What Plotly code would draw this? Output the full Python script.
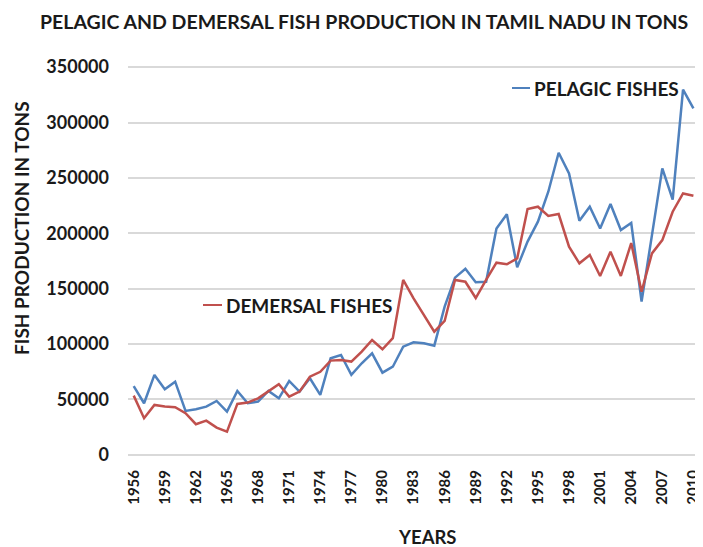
import plotly.graph_objects as go

years = list(range(1956, 2011))

pelagic = [62000, 46600, 72200, 59200, 66100, 39700, 41200, 43600, 48700, 39000,
           57700, 46600, 48100, 57700, 51100, 66700, 57100, 69200, 54100, 87200,
           90200, 72200, 82700, 91700, 74200, 79600, 97700, 101600, 100700, 98600,
           133800, 160000, 168000, 155800, 156300, 204400, 217100, 169300, 192500, 210500,
           237500, 272700, 254100, 211400, 224000, 204400, 226400, 203000, 209300, 138300,
           198400, 258600, 230500, 329700, 312700]

demersal = [53500, 33100, 45100, 43600, 43000, 37600, 27700, 30900, 24600, 21000,
            46000, 47200, 51100, 57100, 63800, 52600, 57100, 70600, 75000, 85100,
            85700, 84200, 93200, 103700, 95300, 105300, 157900, 141300, 126300, 111200,
            120900, 157900, 156300, 141600, 157900, 173500, 172000, 177400, 221900, 224000,
            215600, 217400, 187900, 172900, 180400, 161500, 183400, 161500, 191200, 147300,
            181900, 193900, 219500, 236000, 233900]

x_ticks = list(range(1956, 2011, 3))
y_ticks = [0, 50000, 100000, 150000, 200000, 250000, 300000, 350000]

title_text = "PELAGIC AND DEMERSAL FISH PRODUCTION IN TAMIL NADU IN TONS"
pelagic_name = "PELAGIC FISHES"
demersal_name = "DEMERSAL FISHES"

BLUE = "#4f81bd"
RED = "#c0504d"
FONT = "Lato"
TXT = "#1a1a1a"

# page body has an 8px margin: figure is placed at (8, 8)
OFF = 8
FW, FH = 703 - OFF, 547 - OFF
# plot area in page pixels
L, R, T, B = 128, 696, 66, 456
W, H = R - L, B - T


def px(x):
    return (x - L) / W


def py(y):
    return (B - y) / H


fig = go.Figure()
fig.add_trace(go.Scatter(x=years, y=pelagic, mode="lines", name=pelagic_name,
                         line=dict(color=BLUE, width=2.5)))
fig.add_trace(go.Scatter(x=years, y=demersal, mode="lines", name=demersal_name,
                         line=dict(color=RED, width=2.5)))

fig.update_layout(
    width=FW, height=FH,
    margin=dict(l=L - OFF, r=703 - R, t=T - OFF, b=547 - B),
    paper_bgcolor="white", plot_bgcolor="white",
    showlegend=False,
    font=dict(family=FONT, color=TXT),
    xaxis=dict(range=[1955.45, 2010.25], tickvals=x_ticks, ticktext=[str(v) for v in x_ticks],
               tickangle=-90, showgrid=False, zeroline=False, showline=False, ticks="",
               ticklabelstandoff=10, automargin=False,
               tickfont=dict(family=FONT, size=15, color=TXT, weight="bold")),
    yaxis=dict(range=[-1000, 351000], tickvals=y_ticks, ticktext=[str(v) for v in y_ticks],
               showgrid=True, gridcolor="#d9d9d9", gridwidth=2, zeroline=False,
               showline=False, ticks="", ticklabelstandoff=18, automargin=False,
               tickfont=dict(family=FONT, size=18, color=TXT, weight="bold")),
)

# Title
fig.add_annotation(text=title_text, xref="paper", yref="paper",
                   x=px(363.5), y=py(22), xanchor="center", yanchor="middle",
                   showarrow=False, font=dict(family=FONT, size=19.5, color=TXT, weight="bold"))
# Axis titles
fig.add_annotation(text="FISH PRODUCTION IN TONS", xref="paper", yref="paper",
                   x=px(21), y=py(228), xanchor="center", yanchor="middle",
                   textangle=-90, showarrow=False,
                   font=dict(family=FONT, size=19, color=TXT, weight="bold"))
fig.add_annotation(text="YEARS", xref="paper", yref="paper",
                   x=px(427), y=py(537), xanchor="center", yanchor="middle",
                   showarrow=False, font=dict(family=FONT, size=18.5, color=TXT, weight="bold"))

# Series labels with keys
fig.add_shape(type="line", xref="paper", yref="paper",
              x0=px(203), x1=px(222), y0=py(305), y1=py(305), line=dict(color=RED, width=2))
fig.add_annotation(text=demersal_name, xref="paper", yref="paper",
                   x=px(224), y=py(305), xanchor="left", yanchor="middle",
                   showarrow=False, font=dict(family=FONT, size=19, color=TXT, weight="bold"))
fig.add_shape(type="line", xref="paper", yref="paper",
              x0=px(512), x1=px(530), y0=py(88), y1=py(88), line=dict(color=BLUE, width=2))
fig.add_annotation(text=pelagic_name, xref="paper", yref="paper",
                   x=px(532), y=py(88), xanchor="left", yanchor="middle",
                   showarrow=False, font=dict(family=FONT, size=19, color=TXT, weight="bold"))

fig.write_html("out.html")
